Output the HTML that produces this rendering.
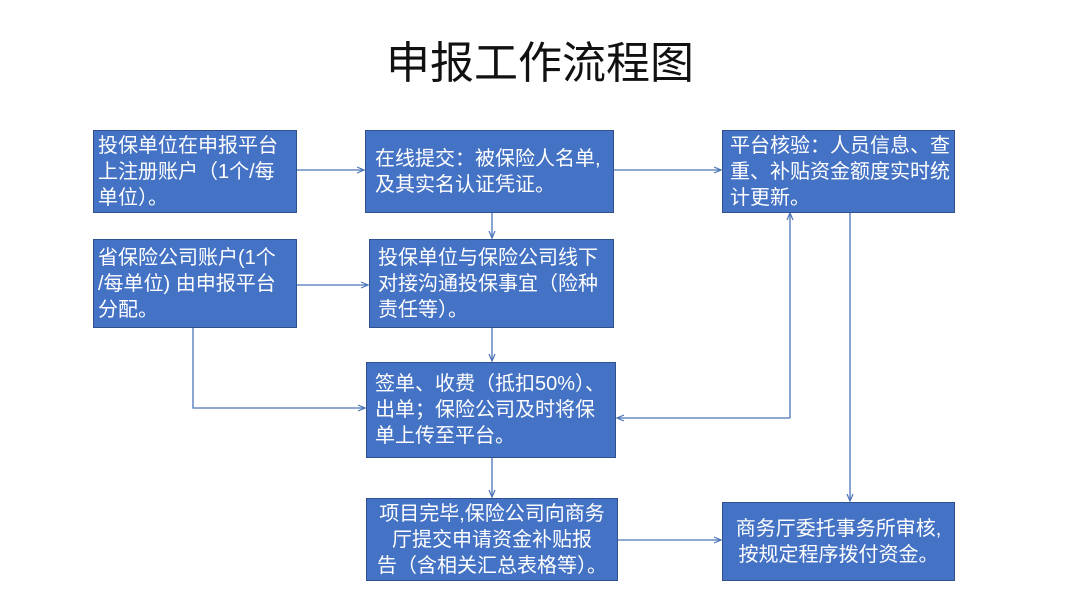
<!DOCTYPE html>
<html><head><meta charset="utf-8"><style>
body{margin:0;width:1080px;height:608px;background:#fff;position:relative;overflow:hidden;font-family:"Liberation Sans","Noto Sans CJK SC",sans-serif}
.t{position:absolute;left:0;width:1080px;top:36px;text-align:center;font-size:44px;color:#111;line-height:56px}
.b{position:absolute;background:#4472C4;border:1.5px solid #2F528F;box-sizing:border-box;color:#fff;font-size:20px;line-height:26px;padding:4px 6px;display:flex;align-items:center;white-space:nowrap}
.c{justify-content:center;text-align:center}
svg{position:absolute;left:0;top:0}
</style></head><body>
<div class="t">申报工作流程图</div>
<svg width="1080" height="608">
<defs><marker id="a" markerWidth="8" markerHeight="8" refX="7" refY="4" orient="auto" markerUnits="userSpaceOnUse"><path d="M0,1 L7,4 L0,7" fill="none" stroke="#4A74B8" stroke-width="1.2"/></marker></defs>
<g stroke="#4A74B8" stroke-width="1.3" fill="none">
<line x1="296" y1="170" x2="364" y2="170" marker-end="url(#a)"/>
<line x1="613" y1="170" x2="721" y2="170" marker-end="url(#a)"/>
<line x1="492" y1="212" x2="492" y2="238" marker-end="url(#a)"/>
<line x1="296" y1="285" x2="368" y2="285" marker-end="url(#a)"/>
<line x1="492" y1="327" x2="492" y2="361" marker-end="url(#a)"/>
<polyline points="193,327 193,408 365,408" marker-end="url(#a)"/>
<polyline points="790,418 617,418" marker-end="url(#a)"/>
<polyline points="790,418 790,213" marker-end="url(#a)"/>
<line x1="850" y1="212" x2="850" y2="501" marker-end="url(#a)"/>
<line x1="492" y1="457" x2="492" y2="497" marker-end="url(#a)"/>
<line x1="617" y1="540" x2="721" y2="540" marker-end="url(#a)"/>
</g></svg>
<div class="b" style="left:93px;top:130px;width:204px;height:83px;padding-left:4px"><div>投保单位在申报平台<br>上注册账户（1个/每<br>单位）。</div></div>
<div class="b" style="left:365px;top:130px;width:249px;height:83px;padding-left:9px"><div>在线提交：被保险人名单,<br>及其实名认证凭证。</div></div>
<div class="b" style="left:722px;top:130px;width:233px;height:83px;padding-left:7px"><div>平台核验：人员信息、查<br>重、补贴资金额度实时统<br>计更新。</div></div>
<div class="b" style="left:93px;top:239px;width:204px;height:89px;padding-left:4px"><div>省保险公司账户(1个<br>/每单位) 由申报平台<br>分配。</div></div>
<div class="b" style="left:369px;top:239px;width:245px;height:89px;padding-left:8px"><div>投保单位与保险公司线下<br>对接沟通投保事宜（险种<br>责任等）。</div></div>
<div class="b" style="left:366px;top:362px;width:250px;height:96px;padding-left:8px"><div>签单、收费（抵扣50%）、<br>出单；保险公司及时将保<br>单上传至平台。</div></div>
<div class="b c" style="left:366px;top:498px;width:252px;height:83px"><div>项目完毕,保险公司向商务<br>厅提交申请资金补贴报<br>告（含相关汇总表格等）。</div></div>
<div class="b c" style="left:722px;top:502px;width:233px;height:79px"><div>商务厅委托事务所审核,<br>按规定程序拨付资金。</div></div>
</body></html>
